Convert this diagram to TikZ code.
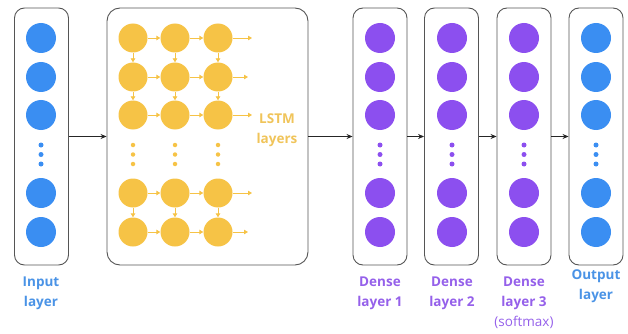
\documentclass[tikz,border=0pt]{standalone}
\usepackage{fontspec}
\setmainfont{Open Sans}
\usetikzlibrary{arrows.meta}
\definecolor{nnblue}{HTML}{3A8EF2}
\definecolor{nnpurple}{HTML}{8C4FEF}
\definecolor{nnyellow}{HTML}{F6C346}
\definecolor{lblblue}{HTML}{4A93E6}
\definecolor{lblpurple}{HTML}{9560EA}
\definecolor{lblyellow}{HTML}{F0C45A}
\definecolor{frame}{HTML}{555555}
\tikzset{
  layerbox/.style={draw=frame, line width=0.9pt, rounded corners=10pt, minimum width=54pt, minimum height=257pt, inner sep=0pt},
  neuron/.style={circle, inner sep=0pt, minimum size=30pt},
  cell/.style={circle, inner sep=0pt, minimum size=29pt, fill=nnyellow},
  dot/.style={circle, inner sep=0pt, minimum size=5pt},
  flow/.style={draw=black!85, line width=0.8pt, -{Stealth[length=6pt,width=5pt]}},
  cellflow/.style={draw=nnyellow, line width=0.9pt, -{Triangle[length=4pt,width=4.5pt]}},
  caption/.style={font=\bfseries\fontsize{13.5}{16}\selectfont, align=center, inner sep=0pt, anchor=north}
}
\begin{document}
\begin{tikzpicture}[x=1pt,y=-1pt]
\useasboundingbox (0,0) rectangle (628,334);

% layer frames
\node[layerbox] (inbox) at (41.5,136.5) {};
\node[layerbox, minimum width=201pt, rounded corners=13pt] (lstmbox) at (207.5,136.5) {};
\node[layerbox] (d1box) at (380,136.5) {};
\node[layerbox] (d2box) at (451.5,136.5) {};
\node[layerbox] (d3box) at (524,136.5) {};
\node[layerbox] (outbox) at (596,136.5) {};

% fully connected layers: neurons and ellipsis dots
\foreach \lay/\x/\col in {in/41/nnblue, da/380/nnpurple, db/452/nnpurple, dc/524/nnpurple, out/596/nnblue} {
  \foreach \i/\y in {1/38, 2/77, 3/115, 4/193, 5/232}
    \node[neuron, fill=\col] (\lay\i) at (\x,\y) {};
  \foreach \j/\y in {1/145, 2/154.5, 3/164}
    \node[dot, fill=\col] (\lay dot\j) at (\x,\y) {};
}

% LSTM grid
\foreach \c/\x in {1/133, 2/175, 3/218} {
  \foreach \r/\y in {1/38, 2/77, 3/115, 4/193, 5/232}
    \node[cell] (c\r\c) at (\x,\y) {};
  \foreach \j/\y in {1/145, 2/154.5, 3/164}
    \node[dot, fill=nnyellow, minimum size=4.5pt] (cdot\c\j) at (\x,\y) {};
}
\foreach \r in {1,...,5} {
  \draw[cellflow] (c\r1) -- (c\r2);
  \draw[cellflow] (c\r2) -- (c\r3);
}
\foreach \c in {1,2,3} {
  \draw[cellflow] (c1\c) -- (c2\c);
  \draw[cellflow] (c2\c) -- (c3\c);
  \draw[cellflow] (c4\c) -- (c5\c);
}
\foreach \r/\e in {1/252, 2/248, 3/252, 4/252, 5/248} {
  \coordinate (cend\r) at (\e, 0 |- c\r3);
  \draw[cellflow] (c\r3) -- (cend\r);
}

% data flow between layers
\draw[flow] (inbox) -- (lstmbox);
\draw[flow] (lstmbox) -- (d1box);
\draw[flow] (d1box) -- (d2box);
\draw[flow] (d2box) -- (d3box);
\draw[flow] (d3box) -- (outbox);

% captions
\node[caption, text=lblyellow] (lstmlbl) at (277,114) {LSTM\\[4pt]layers};
\node[caption, text=lblblue] (inlbl) at (41,277) {Input\\[4pt]layer};
\node[caption, text=lblpurple] (d1lbl) at (380,277) {Dense\\[4pt]layer 1};
\node[caption, text=lblpurple] (d2lbl) at (452,277) {Dense\\[4pt]layer 2};
\node[caption, text=lblpurple] (d3lbl) at (524,277) {Dense\\[4pt]layer 3\\[4pt]{\mdseries (softmax)}};
\node[caption, text=lblblue] (outlbl) at (596,270) {Output\\[4pt]layer};
\end{tikzpicture}
\end{document}
